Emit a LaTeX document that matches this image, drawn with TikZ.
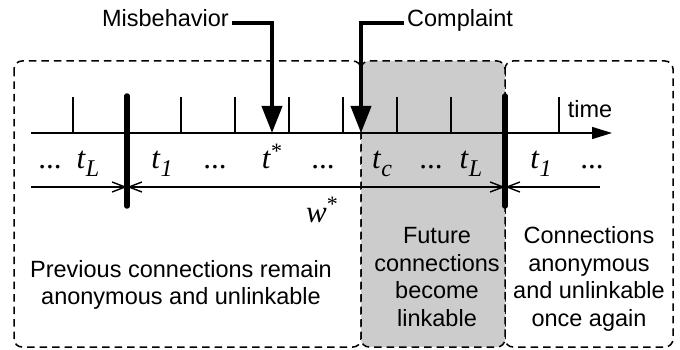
\documentclass[tikz,border=0pt]{standalone}
\usepackage{fontspec}
\setmainfont{Liberation Sans}
\newfontfamily\tms{Liberation Serif}
\usetikzlibrary{arrows.meta}
\newcommand\tsb[1]{\textit{t}\raisebox{-8pt}{\fontsize{24}{24}\selectfont\itshape #1}}
\newcommand\sstar{\raisebox{10pt}{\fontsize{22}{22}\selectfont *}}
\begin{document}
\begin{tikzpicture}[x=1pt,y=-1pt,
  regbox/.style={draw, line width=1.5pt, dash pattern=on 7.5pt off 5pt, rounded corners=8pt},
  tickln/.style={line width=1.3pt},
  barln/.style={line width=5.5pt, line cap=round},
  ptr/.style={line width=4pt, -{Triangle[length=27pt,width=20pt]}},
  axisln/.style={line width=1.5pt, -{Triangle[length=20pt,width=12pt]}},
  spanln/.style={line width=1.4pt},
  barb/.tip={Straight Barb[length=13pt,width=10pt]},
  lbl/.style={font=\tms\fontsize{31}{33}\selectfont, anchor=base, inner sep=0pt},
  sftxt/.style={font=\fontsize{23.5}{27.5}\selectfont, align=center, inner sep=0pt},
]
\useasboundingbox (0,0) rectangle (680,350);

% region boxes
\draw[regbox] (14,61) rectangle (361,347);
\draw[regbox] (505,61) rectangle (673,347);
\draw[regbox, fill=black!20] (361,61) rectangle (505,347);

% time axis
\coordinate (ax0) at (31,133);
\coordinate (ax1) at (612,133);
\draw[axisln] (ax0) -- (ax1);
\node[font=\fontsize{23.5}{27.5}\selectfont, anchor=base, inner sep=0pt] (time) at (590,118) {time};

% ticks
\foreach \x in {73,181,235,289,343,397,451,559}
  \draw[tickln] (\x,97) -- (\x,133);

% thick bars
\coordinate (b1t) at (127,96);
\coordinate (b1b) at (127,206);
\coordinate (b2t) at (505,96);
\coordinate (b2b) at (505,206);
\draw[barln] (b1t) -- (b1b);
\draw[barln] (b2t) -- (b2b);

% span arrows
\coordinate (s0) at (31,187);
\coordinate (s1) at (127,187);
\coordinate (s2) at (505,187);
\coordinate (s3) at (600,187);
\draw[spanln, -barb] (s0) -- (s1);
\draw[spanln, barb-barb] (s1) -- (s2);
\draw[spanln, -barb] (s3) -- (s2);

% labels on the axis
\node[lbl] (d1) at (50,168) {...};
\node[lbl] (tL1) at (88,168) {\tsb{L}};
\node[lbl] (t11) at (162,168) {\tsb{1}};
\node[lbl] (d2) at (215,168) {...};
\node[lbl] (tst) at (272,168) {\textit{t}\sstar};
\node[lbl] (d3) at (323,168) {...};
\node[lbl] (tc) at (382,168) {\tsb{c}};
\node[lbl] (d4) at (431,168) {...};
\node[lbl] (tL2) at (471,168) {\tsb{L}};
\node[lbl] (t12) at (541,168) {\tsb{1}};
\node[lbl] (d5) at (592,168) {...};
\node[lbl] (w) at (322,222) {\textit{w}\sstar};

% event pointers
\node[font=\fontsize{23.5}{27.5}\selectfont, anchor=base east, inner sep=0pt] (mis) at (229,27) {Misbehavior};
\node[font=\fontsize{23.5}{27.5}\selectfont, anchor=base west, inner sep=0pt] (comp) at (407,27) {Complaint};
\coordinate (pm) at (272,133);
\coordinate (pc) at (361,133);
\draw[ptr] ([xshift=3pt,yshift=4pt]mis.base east) -| (pm);
\draw[ptr] ([xshift=-3pt,yshift=4pt]comp.base west) -| (pc);

% region texts
\node[sftxt] (prev) at (181,285) {Previous connections remain\\anonymous and unlinkable};
\node[sftxt] (fut) at (437,277) {Future\\connections\\become\\linkable};
\node[sftxt] (again) at (589,279) {Connections\\anonymous\\and unlinkable\\once again};
\end{tikzpicture}
\end{document}
